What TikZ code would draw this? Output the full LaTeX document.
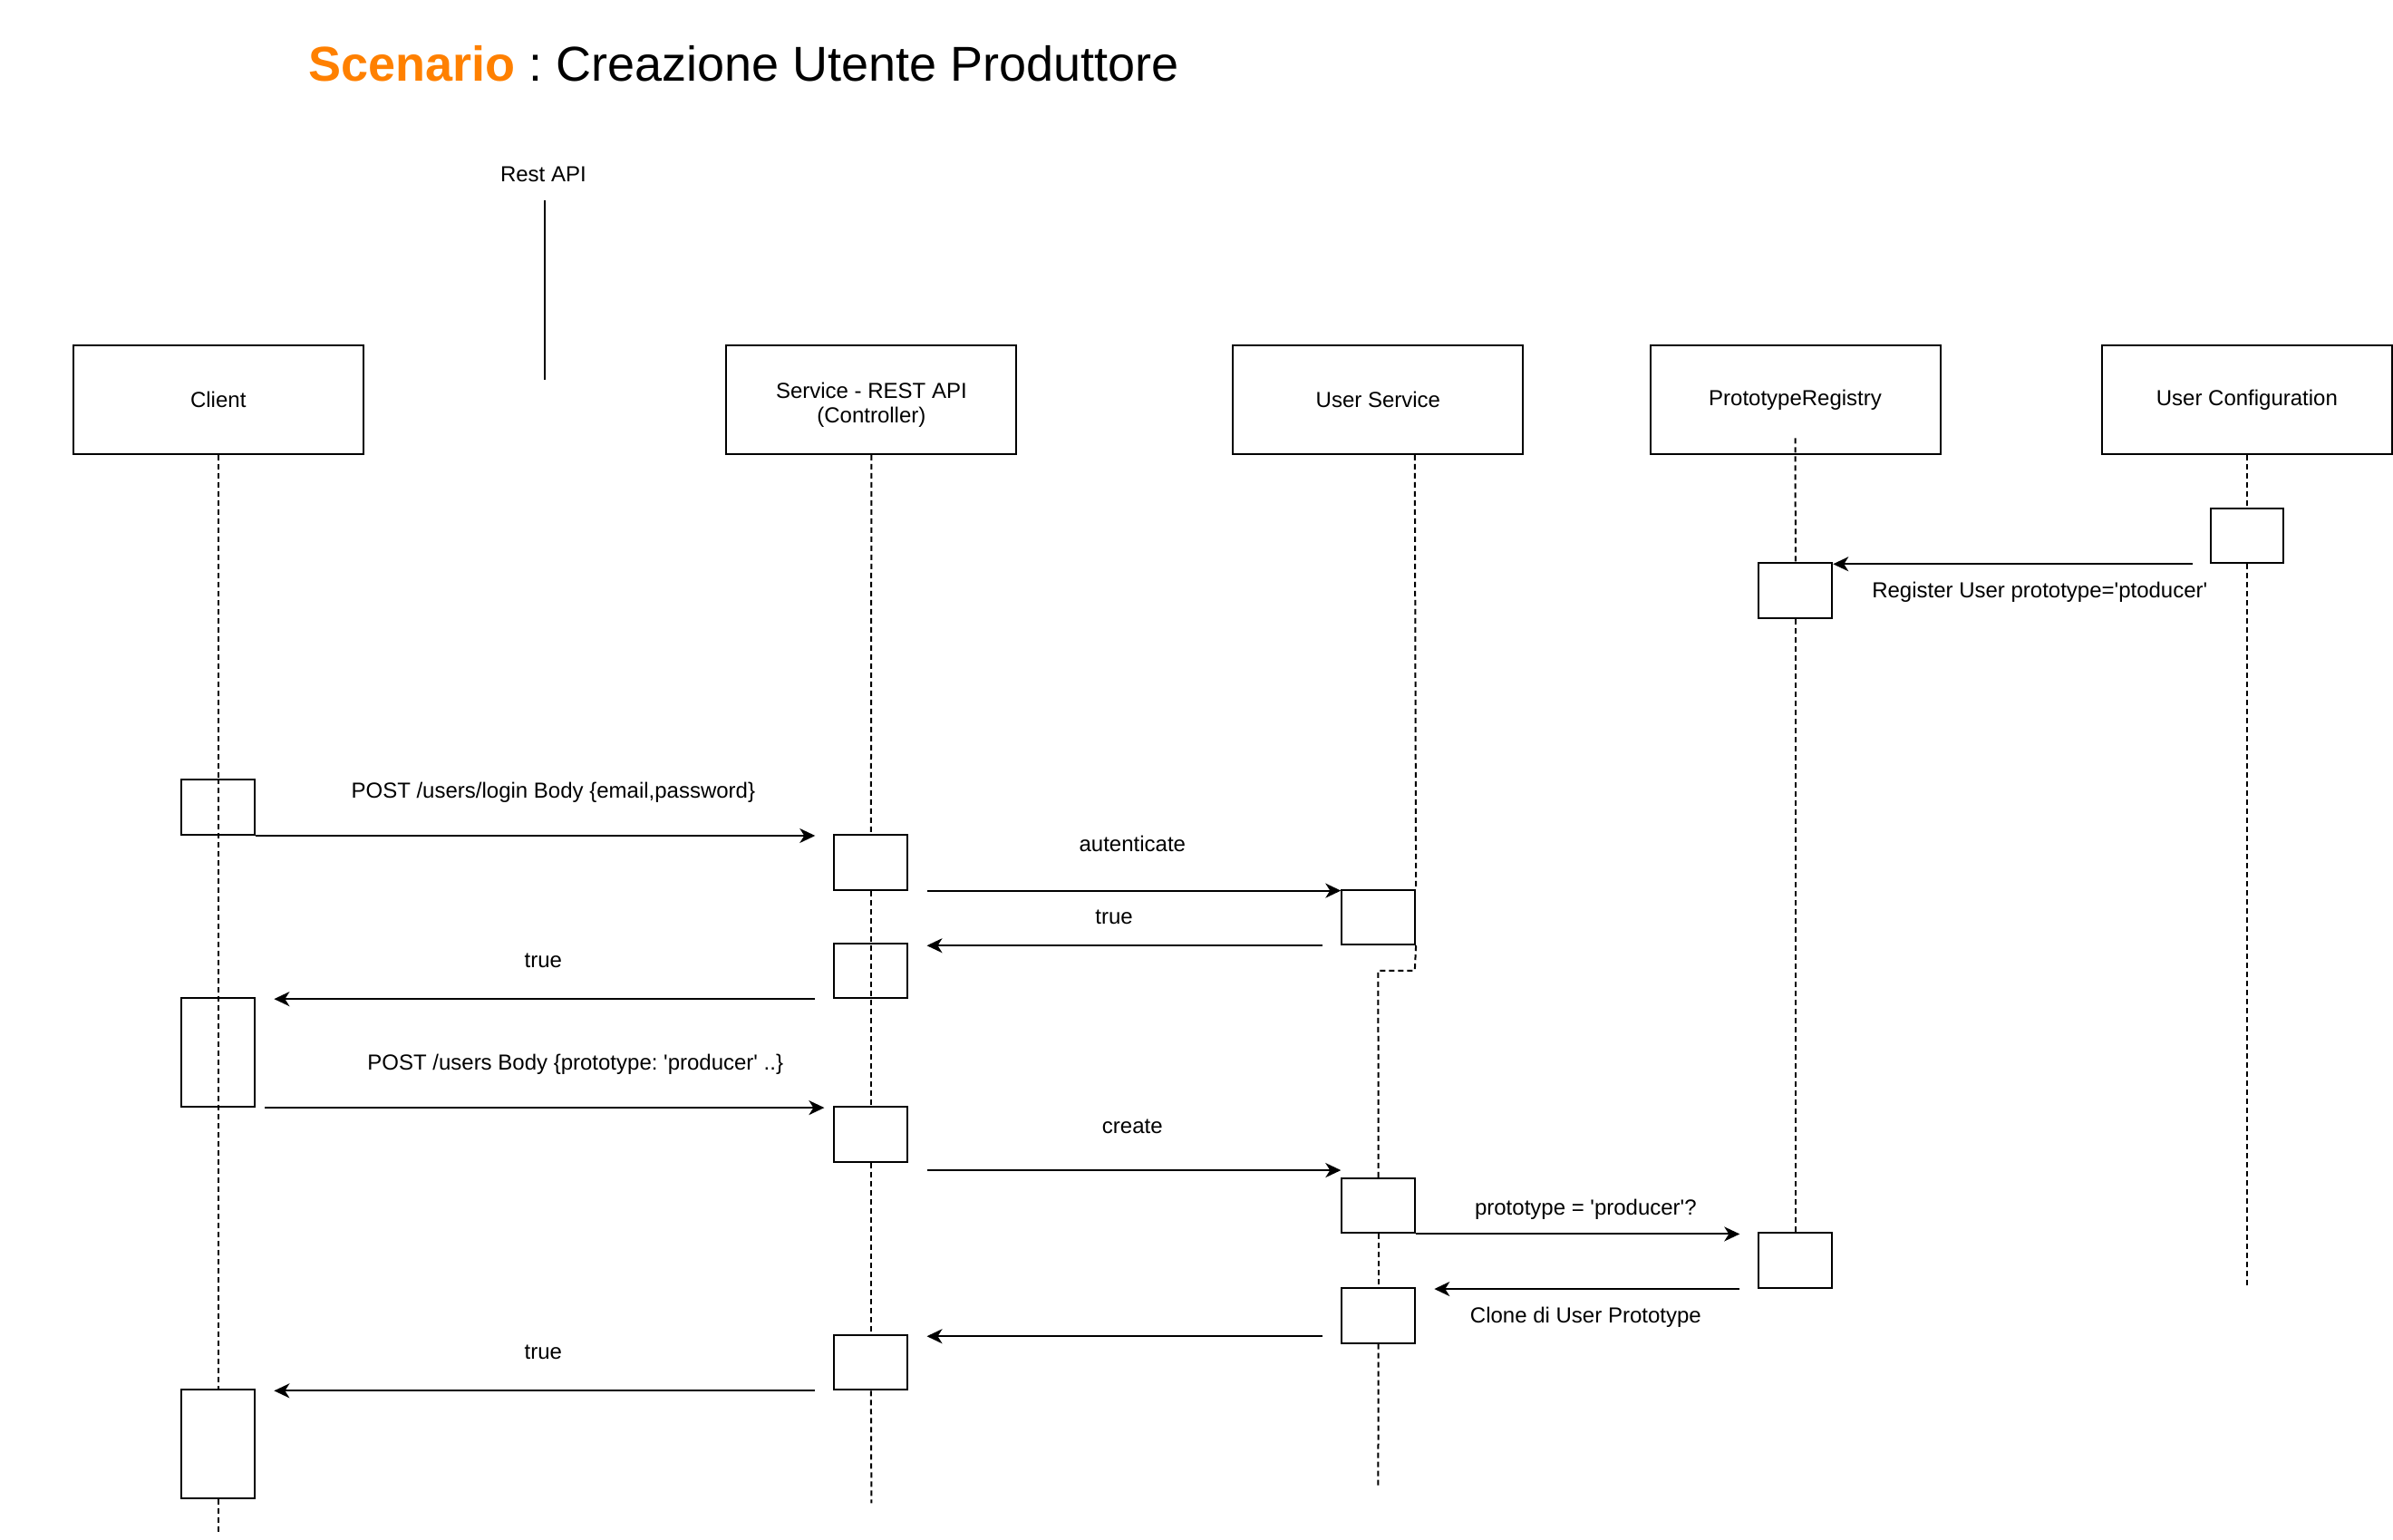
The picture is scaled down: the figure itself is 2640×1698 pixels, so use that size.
\documentclass[tikz,border=0pt]{standalone}
\usepackage{fontspec}
\setmainfont{Liberation Sans}
\usetikzlibrary{arrows.meta,calc}
\definecolor{scorange}{RGB}{255,128,0}
\newcommand{\sq}{\textquotesingle}
\begin{document}
\frenchspacing
\begin{tikzpicture}[x=1.6837pt,y=-1.6837pt,
  every node/.style={font=\fontsize{24pt}{27pt}\selectfont\frenchspacing},
  hdr/.style={draw,line width=2pt,minimum width=320pt,minimum height=120pt,inner sep=0pt},
  act/.style={draw,line width=2pt,fill=white,minimum width=80.8pt,minimum height=60.6pt,inner sep=0pt},
  actclear/.style={act,fill=none},
  tall/.style={minimum height=120pt},
  life/.style={line width=2pt,dash pattern=on 6pt off 4pt},
  msg/.style={line width=2pt,-{Stealth[length=17pt,width=16pt,inset=5pt]}},
  lbl/.style={anchor=base,inner sep=0pt}]
\path[use as bounding box] (0pt,0pt) rectangle (2640pt,-1698pt);

% title
\node[anchor=base west,inner sep=0pt,font=\fontsize{54pt}{60pt}\selectfont\frenchspacing] (title) at (202,53)
  {\textcolor{scorange}{\bfseries Scenario} : Creazione Utente Produttore};

% Rest API
\node[lbl] (restapi) at (356,119) {Rest API};
\coordinate (ra1) at (357,131);
\coordinate (ra2) at (357,249);
\draw[line width=2pt] (ra1) -- (ra2);

% headers
\node[hdr] (client) at (143,261.8) {Client};
\node[hdr] (srv) at (571,261.8) {};
\node[lbl] (srvt1) at (571,261.3) {Service - REST API};
\node[lbl] (srvt2) at (571,277) {(Controller)};
\node[hdr] (us) at (903,261.8) {User Service};
\node[hdr] (pr) at (1176.3,261.8) {PrototypeRegistry};
\node[hdr] (uc) at (1472.3,261.8) {User Configuration};

% lifeline end points
\coordinate (clend) at (143,1005);
\coordinate (srvend) at (571,985);
\coordinate (usj1) at (927,636);
\coordinate (usj2) at (903,636);
\coordinate (usend) at (903,975);
\coordinate (ucend) at (1472.3,843);

% activation boxes
\node[act] (uc1) at (1472.3,351) {};
\node[act] (pr1) at (1176.5,387) {};
\node[actclear] (c1) at (143,529) {};
\node[act] (s1) at (570.7,565) {};
\node[act] (us1) at (903.2,601) {};
\node[actclear] (s2) at (570.7,636) {};
\node[actclear,tall] (c2) at (143,689.6) {};
\node[act] (s3) at (570.7,743.2) {};
\node[act] (us2) at (903.2,790) {};
\node[act] (pr2) at (1176.5,826) {};
\node[act] (us3) at (903.2,862) {};
\node[act] (s4) at (570.7,892.7) {};
\node[act,tall] (c3) at (143,946.4) {};

% lifelines
\draw[life] (client.south) -- (c1.north);
\draw[life] (c1.north) -- (c3.north);
\draw[life] (c3.south) -- (clend);
\draw[life] (srv.south) -- (s1.north);
\draw[life] (s1.south) -- (s3.north);
\draw[life] (s3.south) -- (s4.north);
\draw[life] (s4.south) -- (srvend);
\draw[life] ($(us.south)+(24,0)$) -- (us1.north east);
\draw[life] (us1.south east) -- (usj1) -- (usj2) -- (us2.north);
\draw[life] (us2.south) -- (us3.north);
\draw[life] (us3.south) -- (usend);
\draw[life] ($(pr.south)+(0,-11)$) -- (pr1.north);
\draw[life] (pr1.south) -- (pr2.north);
\draw[life] (uc.south) -- (uc1.north);
\draw[life] (uc1.south) -- (ucend);

% messages
\draw[msg] ($(uc1.south west)+(-11,0)$) coordinate (m1) -- (m1 -| pr1.east);
\node[lbl] (l1) at (1336.5,391.5) {Register User prototype=\sq ptoducer\sq};

\draw[msg] (c1.south east) coordinate (m2) -- ($(m2 -| s1.west)+(-12,0)$);
\node[lbl] (l2) at (362.5,523) {POST /users/login Body \{email,password\}};

\draw[msg] ($(s1.south east)+(12,0)$) coordinate (m3) -- (m3 -| us1.west);
\node[lbl] (l3) at (742,558) {autenticate};

\draw[msg] ($(us1.south west)+(-12,0)$) coordinate (m4) -- ($(m4 -| s2.east)+(12,0)$);
\node[lbl] (l4) at (730,605.5) {true};

\draw[msg] ($(s2.south west)+(-12,0)$) coordinate (m5) -- ($(m5 -| c2.east)+(12,0)$);
\node[lbl] (l5) at (356,634) {true};

\draw[msg] ($(c2.south east)+(6,0)$) coordinate (m6) -- ($(m6 -| s3.west)+(-6,0)$);
\node[lbl] (l6) at (377,701) {POST /users Body \{prototype: \sq producer\sq{} ..\}};

\draw[msg] ($(s3.south east)+(12,5)$) coordinate (m7) -- (m7 -| us2.west);
\node[lbl] (l7) at (742,742.5) {create};

\draw[msg] (us2.south east) coordinate (m8) -- ($(m8 -| pr2.west)+(-12,0)$);
\node[lbl] (l8) at (1039,796) {prototype = \sq producer\sq ?};

\draw[msg] ($(pr2.south west)+(-12,0)$) coordinate (m9) -- ($(m9 -| us3.east)+(12,0)$);
\node[lbl] (l9) at (1039,867) {Clone di User Prototype};

\draw[msg] ($(us3.south west)+(-12,-5)$) coordinate (m10) -- ($(m10 -| s4.east)+(12,0)$);

\draw[msg] ($(s4.south west)+(-12,0)$) coordinate (m11) -- ($(m11 -| c3.east)+(12,0)$);
\node[lbl] (l11) at (356,890.5) {true};
\end{tikzpicture}
\end{document}
